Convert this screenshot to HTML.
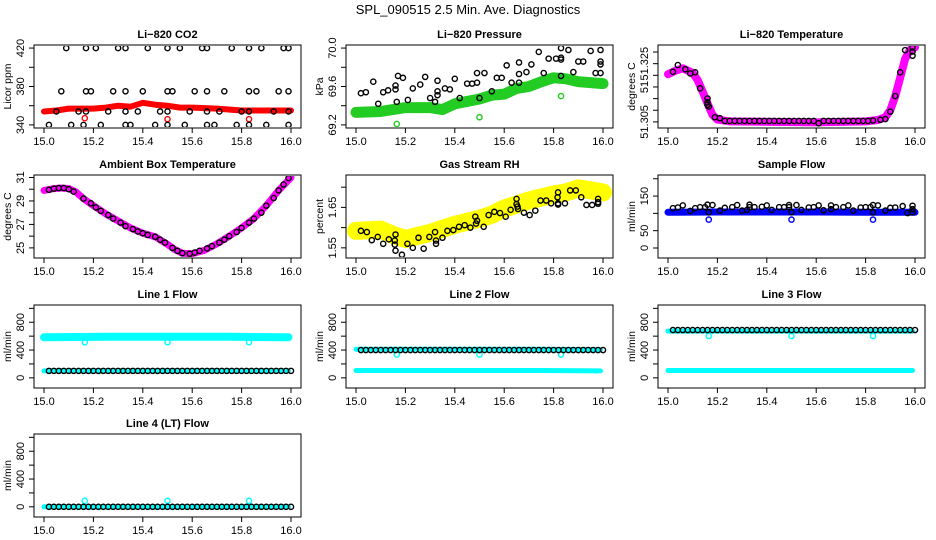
<!DOCTYPE html>
<html><head><meta charset="utf-8">
<style>
html,body{margin:0;padding:0;background:#fff;}
svg{display:block;font-family:"Liberation Sans",Arial,sans-serif;}
</style></head>
<body>
<svg id="chart" width="936" height="540" viewBox="0 0 936 540" xmlns="http://www.w3.org/2000/svg">
<rect width="936" height="540" fill="#fff"/>
<text x="468" y="14" text-anchor="middle" font-size="13">SPL_090515  2.5 Min. Ave. Diagnostics</text>
</svg>
<script>
// ---------- data ----------
const xTicks=[15.0,15.2,15.4,15.6,15.8,16.0];
const xTickLabels=['15.0','15.2','15.4','15.6','15.8','16.0'];

const co2TopX=[15.09,15.17,15.21,15.30,15.33,15.42,15.50,15.55,15.64,15.66,15.76,15.83,15.88,15.97,15.99];
const co2TopY=[420,420,420,420,420,420,420,420,420,420,420,420,420,420,420];
const co2HighX=[15.07,15.17,15.19,15.28,15.33,15.40,15.50,15.52,15.61,15.66,15.73,15.83,15.86,15.95,15.99];
const co2HighY=[375,375,375,375,375,375,375,375,375,375,375,375,375,375,375];
const co2MidX=[15.05,15.14,15.17,15.26,15.33,15.38,15.47,15.50,15.59,15.66,15.71,15.80,15.83,15.93,15.99];
const co2MidY=[354,354,354,354,354,354,354,354,354,354,354,354,354,354,354];
const co2LowX=[15.02,15.11,15.16,15.23,15.33,15.35,15.45,15.50,15.57,15.66,15.69,15.78,15.83,15.90,15.99];
const co2LowY=[340,340,340,340,340,340,340,340,340,340,340,340,340,340,340];
const co2BandX=[15.0,15.05,15.1,15.2,15.25,15.3,15.35,15.4,15.45,15.5,15.55,15.6,15.7,15.8,15.9,16.0];
const co2BandY=[354,355,357,357,358,360,359,363,361,360,358,358,357,355,355,355];
const co2OutX=[15.165,15.5,15.83];
const co2OutY=[347,346,346];

const presBandX=[15.0,15.1,15.2,15.3,15.35,15.4,15.5,15.55,15.6,15.65,15.7,15.75,15.8,15.85,15.9,16.0];
const presBandY=[69.33,69.34,69.38,69.38,69.36,69.42,69.47,69.51,69.52,69.58,69.60,69.65,69.69,69.68,69.65,69.63];
const presOutX=[15.165,15.5,15.83];
const presOutY=[69.21,69.28,69.50];
const presX=[15.02,15.04,15.07,15.09,15.11,15.13,15.16,15.16,15.17,15.165,15.19,15.21,15.23,15.26,15.28,15.30,15.32,15.33,15.33,15.33,15.36,15.38,15.40,15.42,15.45,15.47,15.49,15.49,15.5,15.52,15.55,15.57,15.59,15.61,15.63,15.66,15.66,15.66,15.69,15.71,15.74,15.76,15.78,15.81,15.83,15.83,15.83,15.83,15.86,15.88,15.90,15.92,15.95,15.97,15.99,15.99,15.99,15.99];
const presY=[69.53,69.54,69.65,69.42,69.54,69.56,69.57,69.61,69.71,69.44,69.69,69.46,69.58,69.62,69.70,69.48,69.44,69.51,69.55,69.66,69.58,69.57,69.68,69.48,69.63,69.63,69.64,69.74,69.48,69.74,69.55,69.69,69.69,69.82,69.64,69.64,69.73,69.85,69.75,69.83,69.96,69.74,69.89,69.89,69.88,69.90,69.71,70.0,69.98,69.75,69.86,69.86,69.97,69.74,69.98,69.74,69.83,69.86];

const tempBandX=[15.0,15.03,15.06,15.1,15.12,15.14,15.16,15.18,15.2,15.25,15.6,15.8,15.85,15.88,15.9,15.92,15.94,15.96,15.98,16.0];
const tempBandY=[51.3255,51.327,51.328,51.326,51.323,51.318,51.313,51.308,51.306,51.3052,51.3048,51.3052,51.3058,51.307,51.310,51.316,51.324,51.332,51.336,51.337];
const tempX=[15.02,15.04,15.07,15.09,15.11,15.13,15.16,15.16,15.165,15.16,15.19,15.21,15.23,15.25,15.27,15.29,15.31,15.33,15.35,15.37,15.39,15.41,15.43,15.45,15.47,15.49,15.51,15.53,15.55,15.57,15.59,15.61,15.63,15.65,15.67,15.69,15.71,15.73,15.75,15.77,15.79,15.81,15.83,15.86,15.88,15.90,15.92,15.94,15.96,15.99,15.99,15.99];
const tempY=[51.3265,51.3294,51.3276,51.3258,51.3263,51.3194,51.3151,51.3123,51.3116,51.3134,51.3070,51.3066,51.3054,51.3054,51.3054,51.3054,51.3054,51.3054,51.3054,51.3054,51.3054,51.3054,51.3054,51.3054,51.3054,51.3054,51.3054,51.3054,51.3054,51.3054,51.3054,51.3044,51.3054,51.3054,51.3054,51.3054,51.3054,51.3054,51.3054,51.3054,51.3054,51.3054,51.3056,51.3059,51.3062,51.3094,51.3161,51.3263,51.3358,51.3370,51.3334,51.3352];

const ambBandX=[15.0,15.04,15.07,15.1,15.13,15.16,15.2,15.25,15.3,15.35,15.4,15.45,15.5,15.53,15.56,15.6,15.65,15.7,15.75,15.8,15.85,15.9,15.95,16.0];
const ambBandY=[29.9,30.05,30.1,30.05,29.75,29.2,28.6,27.9,27.3,26.7,26.25,25.95,25.3,24.85,24.55,24.5,24.8,25.35,26.0,26.7,27.5,28.6,29.9,31.0];
const ambX=[15.02,15.04,15.06,15.08,15.1,15.12,15.16,15.19,15.21,15.23,15.26,15.28,15.31,15.33,15.36,15.38,15.40,15.42,15.45,15.47,15.49,15.52,15.54,15.56,15.59,15.61,15.63,15.66,15.68,15.71,15.73,15.75,15.78,15.8,15.83,15.85,15.88,15.9,15.93,15.95,15.97,15.99];
const ambY=[29.95,30.05,30.1,30.1,30.0,29.8,29.2,28.8,28.45,28.15,27.8,27.5,27.15,26.85,26.6,26.4,26.25,26.1,25.95,25.7,25.45,25.0,24.75,24.55,24.5,24.6,24.75,24.95,25.15,25.45,25.7,26.0,26.35,26.7,27.15,27.5,28.0,28.6,29.25,29.9,30.4,30.95];

const rhBandX=[15.0,15.1,15.15,15.2,15.3,15.4,15.5,15.55,15.6,15.7,15.8,15.85,15.9,16.0];
const rhBandY=[1.592,1.595,1.582,1.572,1.587,1.607,1.622,1.632,1.647,1.667,1.682,1.687,1.697,1.687];
const rhX=[15.02,15.044,15.064,15.088,15.11,15.133,15.157,15.157,15.16,15.16,15.186,15.208,15.23,15.253,15.274,15.297,15.32,15.324,15.324,15.35,15.37,15.394,15.417,15.44,15.463,15.483,15.486,15.49,15.517,15.537,15.56,15.583,15.606,15.626,15.65,15.65,15.654,15.656,15.68,15.703,15.726,15.747,15.77,15.79,15.816,15.818,15.818,15.818,15.846,15.867,15.89,15.912,15.933,15.956,15.98,15.98,15.98];
const rhY=[1.592,1.589,1.569,1.577,1.56,1.571,1.568,1.558,1.583,1.543,1.533,1.56,1.55,1.575,1.548,1.577,1.589,1.568,1.56,1.575,1.592,1.594,1.602,1.606,1.60,1.627,1.61,1.617,1.602,1.631,1.639,1.636,1.627,1.644,1.671,1.658,1.652,1.646,1.637,1.631,1.642,1.667,1.667,1.66,1.675,1.687,1.66,1.657,1.66,1.692,1.692,1.675,1.656,1.656,1.671,1.663,1.659];

const sfBandX=[15.0,15.2,15.4,15.6,15.8,16.0];
const sfBandY=[103,104,104,104,103,103];
const sfOutX=[15.165,15.5,15.83];
const sfOutY=[82,82,82];
const sfX=[15.02,15.04,15.06,15.09,15.11,15.13,15.15,15.16,15.165,15.18,15.21,15.23,15.26,15.28,15.3,15.32,15.33,15.33,15.35,15.38,15.40,15.42,15.45,15.47,15.49,15.49,15.5,15.52,15.54,15.57,15.59,15.61,15.63,15.66,15.66,15.68,15.71,15.73,15.75,15.78,15.80,15.82,15.83,15.83,15.85,15.88,15.9,15.92,15.95,15.97,15.99,15.99,15.99];
const sfY=[115,117,123,107,115,118,118,125,103,124,108,116,118,124,108,110,125,118,118,119,123,110,118,118,124,118,103,124,110,117,118,123,109,123,112,118,118,123,108,117,118,118,124,103,123,108,116,117,121,101,122,103,112];

const flowX=[15.02,15.04,15.06,15.08,15.10,15.12,15.14,15.16,15.18,15.20,15.22,15.24,15.26,15.28,15.30,15.32,15.34,15.36,15.38,15.40,15.42,15.44,15.46,15.48,15.50,15.52,15.54,15.56,15.58,15.60,15.62,15.64,15.66,15.68,15.70,15.72,15.74,15.76,15.78,15.80,15.82,15.84,15.86,15.88,15.90,15.92,15.94,15.96,15.98,16.00];
const line1Black=[100,100,100,100,100,100,100,100,100,100,100,100,100,100,100,100,100,100,100,100,100,100,100,100,100,100,100,100,100,100,100,100,100,100,100,100,100,100,100,100,100,100,100,100,100,100,100,100,100,100];
const line2Black=[400,400,400,400,400,400,400,400,400,400,400,400,400,400,400,400,400,400,400,400,400,400,400,400,400,400,400,400,400,400,400,400,400,400,400,400,400,400,400,400,400,400,400,400,400,400,400,400,400,400];
const line3Black=[688,688,688,688,688,688,688,688,688,688,688,688,688,688,688,688,688,688,688,688,688,688,688,688,688,688,688,688,688,688,688,688,688,688,688,688,688,688,688,688,688,688,688,688,688,688,688,688,688,688];
const line4Black=[0,0,0,0,0,0,0,0,0,0,0,0,0,0,0,0,0,0,0,0,0,0,0,0,0,0,0,0,0,0,0,0,0,0,0,0,0,0,0,0,0,0,0,0,0,0,0,0,0,0];
const bandX=[15.0,15.25,15.5,15.75,15.99];
const line1Upper=[585,590,592,590,585];
const line1Lower=[100,100,100,100,100];
const line2Upper=[410,410,410,410,405];
const line2Lower=[105,105,105,105,100];
const line3Upper=[672,672,672,672,672];
const line3Lower=[105,105,105,105,105];
const line4Band=[0,0,0,0,0];
const outX=[15.165,15.5,15.83];
const line1Out=[512,512,512];
const line2Out=[335,335,335];
const line3Out=[602,602,602];
const line4Out=[86,86,86];

// ---------- drawing ----------
const NS='http://www.w3.org/2000/svg';
const svg=document.getElementById('chart');
const COLS=[34,346,658], ROWS=[45,175,305,434], W=267, H=83;
function mk(tag,attrs,parent){const e=document.createElementNS(NS,tag);for(const k in attrs)e.setAttribute(k,attrs[k]);(parent||svg).appendChild(e);return e;}

function panel(c,r,key,title,ylab,ylim,yt,ytl){
  const L=COLS[c],T=ROWS[r];
  const g=mk('g',{});
  
  
  const p={L,T,g,x:v=>L+10+(v-15)*247,y:v=>T+3.07+(ylim[1]-v)/(ylim[1]-ylim[0])*76.85};
  const b=mk('rect',{x:L,y:T,width:W,height:H,fill:'none',stroke:'#000','stroke-width':1},g);
  
  
  const t=mk('text',{x:L+W/2,y:T-7,'text-anchor':'middle','font-size':11,'font-weight':'bold'},g);
  t.textContent=title;
  
  
  const yl=mk('text',{transform:`translate(${L-23},${T+H/2}) rotate(-90)`,'text-anchor':'middle','font-size':10.5},g);
  yl.textContent=ylab;
  
  
  const xa=mk('g',{},g);
  
  
  xTicks.forEach((v,i)=>{
    const X=p.x(v);
    mk('line',{x1:X,x2:X,y1:T+H,y2:T+H+5,stroke:'#000'},xa);
    const tl=mk('text',{x:X,y:T+H+17,'text-anchor':'middle','font-size':11},xa);
    tl.textContent=xTickLabels[i];
    
    
  });
  const ya=mk('g',{},g);
  
  
  yt.forEach((v,i)=>{
    const Y=p.y(v);
    mk('line',{x1:L-5,x2:L,y1:Y,y2:Y,stroke:'#000'},ya);
    if(ytl[i]){
      const tl=mk('text',{transform:`translate(${L-10},${Y}) rotate(-90)`,'text-anchor':'middle','font-size':11},ya);
      tl.textContent=ytl[i];
      
      
    }
  });
  // clip
  const cid='clip-'+key;
  const cp=mk('clipPath',{id:cid},g);
  mk('rect',{x:L+1,y:T+1,width:W-2,height:H-2},cp);
  p.plot=mk('g',{'clip-path':`url(#${cid})`},g);
  return p;
}
function pts(p,xs,ys,color,name){
  const s=mk('g',{fill:'none',stroke:color,'stroke-width':1.4},p.plot);
  
  
  xs.forEach((v,i)=>{
    const c=mk('circle',{cx:p.x(v),cy:p.y(ys[i]),r:2.6},s);
    
    
  });
}
function band(p,xs,ys,color,w,name){
  const d=xs.map((v,i)=>p.x(v).toFixed(1)+','+p.y(ys[i]).toFixed(1)).join(' ');
  const l=mk('polyline',{points:d,fill:'none',stroke:color,'stroke-width':w,'stroke-linejoin':'round','stroke-linecap':'round'},p.plot);
  
  
}

// Panel 1: CO2
let p=panel(0,0,'co2','Li−820 CO2','Licor ppm',[340,420],[340,360,380,400,420],['340','','380','','420']);
band(p,co2BandX,co2BandY,'#ff0000',6,'co2-red-band');
pts(p,co2OutX,co2OutY,'#ff0000','co2-red-outliers');
pts(p,co2TopX,co2TopY,'#000','co2-black-420');
pts(p,co2HighX,co2HighY,'#000','co2-black-375');
pts(p,co2MidX,co2MidY,'#000','co2-black-354');
pts(p,co2LowX,co2LowY,'#000','co2-black-340');

// Panel 2: Pressure
p=panel(1,0,'pressure','Li−820 Pressure','kPa',[69.2,70.0],[69.2,69.4,69.6,69.8,70.0],['69.2','','69.6','','70.0']);
band(p,presBandX,presBandY,'#22cc22',11,'pressure-green-band');
pts(p,presOutX,presOutY,'#22cc22','pressure-green-outliers');
pts(p,presX,presY,'#000','pressure-black-points');

// Panel 3: Li-820 Temperature
p=panel(2,0,'li820-temp','Li−820 Temperature','degrees C',[51.3037,51.3367],[51.305,51.31,51.315,51.32,51.325,51.33,51.335],['51.305','','','51','','51.325','']);
band(p,tempBandX,tempBandY,'#ff00ff',8,'li820-temp-magenta-band');
pts(p,tempX,tempY,'#000','li820-temp-black-points');

// Panel 4: Ambient Box Temperature
p=panel(0,1,'ambient-temp','Ambient Box Temperature','degrees C',[24.4,30.95],[25,26,27,28,29,30,31],['25','','27','','29','','31']);
band(p,ambBandX,ambBandY,'#ff00ff',7,'ambient-magenta-band');
pts(p,ambX,ambY,'#000','ambient-black-points');

// Panel 5: Gas Stream RH
p=panel(1,1,'rh','Gas Stream RH','percent',[1.5325,1.7225],[1.55,1.60,1.65,1.70],['1.55','','1.65','']);
band(p,rhBandX,rhBandY,'#ffff00',18,'rh-yellow-band');
pts(p,rhX,rhY,'#000','rh-black-points');

// Panel 6: Sample Flow
p=panel(2,1,'sample-flow','Sample Flow','ml/min',[-20,202],[0,50,100,150,200],['0','50','','150','']);
band(p,sfBandX,sfBandY,'#0000ff',7,'sample-flow-blue-band');
pts(p,sfOutX,sfOutY,'#0000ff','sample-flow-blue-outliers');
pts(p,sfX,sfY,'#000','sample-flow-black-points');

const flim=[-102,1004], ft=[0,200,400,600,800,1000], ftl=['0','','400','','800',''];
// Panel 7: Line 1
p=panel(0,2,'line1','Line 1 Flow','ml/min',flim,ft,ftl);
band(p,bandX,line1Upper,'#00ffff',8,'line1-cyan-upper');
band(p,bandX,line1Lower,'#00ffff',5,'line1-cyan-lower');
pts(p,outX,line1Out,'#00ffff','line1-cyan-outliers');
pts(p,flowX,line1Black,'#000','line1-black-points');
// Panel 8: Line 2
p=panel(1,2,'line2','Line 2 Flow','ml/min',flim,ft,ftl);
band(p,bandX,line2Upper,'#00ffff',5,'line2-cyan-upper');
band(p,bandX,line2Lower,'#00ffff',5,'line2-cyan-lower');
pts(p,outX,line2Out,'#00ffff','line2-cyan-outliers');
pts(p,flowX,line2Black,'#000','line2-black-points');
// Panel 9: Line 3
p=panel(2,2,'line3','Line 3 Flow','ml/min',flim,ft,ftl);
band(p,bandX,line3Upper,'#00ffff',5,'line3-cyan-upper');
band(p,bandX,line3Lower,'#00ffff',5,'line3-cyan-lower');
pts(p,outX,line3Out,'#00ffff','line3-cyan-outliers');
pts(p,flowX,line3Black,'#000','line3-black-points');
// Panel 10: Line 4
p=panel(0,3,'line4','Line 4 (LT) Flow','ml/min',flim,ft,ftl);
band(p,bandX,line4Band,'#00ffff',5,'line4-cyan-band');
pts(p,outX,line4Out,'#00ffff','line4-cyan-outliers');
pts(p,flowX,line4Black,'#000','line4-black-points');
</script>
</body></html>
